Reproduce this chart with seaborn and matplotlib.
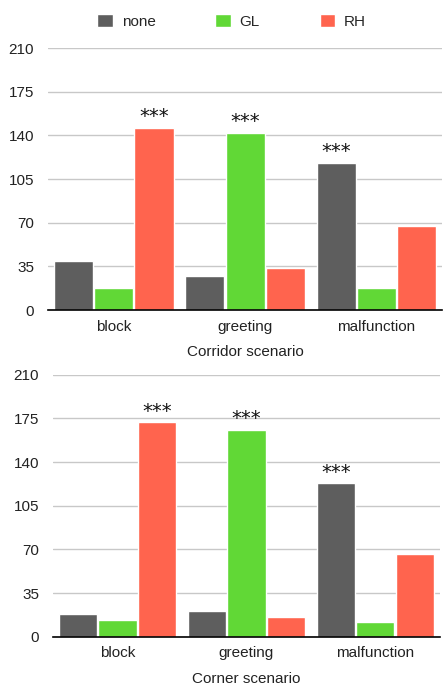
import pandas as pd
import matplotlib.pyplot as plt
import seaborn as sns

sns.set_theme(style="white")
plt.rcParams["font.family"] = ["Liberation Sans", "DejaVu Sans"]

actions = ["block", "greeting", "malfunction"]
conditions = ["none", "GL", "RH"]
colors = ["#5E5E5E", "#61D836", "#FF644E"]

# counts per condition, in the order of `actions`
corridor = {
    "none": [39, 27, 118],
    "GL": [18, 142, 18],
    "RH": [146, 34, 67],
}
corner = {
    "none": [18, 21, 123],
    "GL": [13, 166, 12],
    "RH": [172, 16, 66],
}
# significance marks per condition
corridor_sig = {"none": ["", "", "***"], "GL": ["", "***", ""], "RH": ["***", "", ""]}
corner_sig = {"none": ["", "", "***"], "GL": ["", "***", ""], "RH": ["***", "", ""]}

yticks = [0, 35, 70, 105, 140, 175, 210]


def to_long(counts):
    rows = []
    for cond in conditions:
        for act, v in zip(actions, counts[cond]):
            rows.append({"action": act, "condition": cond, "count": v})
    return pd.DataFrame(rows)


fig = plt.figure(figsize=(4.43, 6.85), dpi=100)
ax1 = fig.add_axes([0.1084, 0.5474, 0.8900, 0.3825])
ax2 = fig.add_axes([0.1196, 0.0705, 0.8730, 0.3825])

panels = [
    (ax1, corridor, corridor_sig, "Corridor scenario"),
    (ax2, corner, corner_sig, "Corner scenario"),
]

for ax, counts, sig, label in panels:
    sns.barplot(
        data=to_long(counts), x="action", y="count", hue="condition",
        hue_order=conditions, palette=colors, width=0.92, gap=0.03,
        saturation=1, ax=ax, legend=(ax is ax1),
    )
    for cont, cond in zip(ax.containers, conditions):
        ax.bar_label(cont, labels=sig[cond], padding=1, fontsize=14,
                     family="DejaVu Sans", color="#111111")
    ax.set_ylim(0, 210)
    ax.set_yticks(yticks)
    ax.set_xlim(-0.5, 2.5)
    ax.yaxis.grid(True, color="#c8c8c8", linewidth=1)
    ax.set_axisbelow(True)
    for side in ["top", "left", "right"]:
        ax.spines[side].set_visible(False)
    ax.spines["bottom"].set_color("black")
    ax.spines["bottom"].set_linewidth(1.2)
    ax.tick_params(axis="both", length=0, labelsize=11, colors="#222222")
    ax.tick_params(axis="y", pad=10)
    ax.tick_params(axis="x", pad=7)
    ax.set_ylabel("")
    ax.set_xlabel(label, fontsize=11, labelpad=8, color="#222222")

handles, labels = ax1.get_legend_handles_labels()
ax1.get_legend().remove()
fig.legend(
    handles, labels, loc="upper center", bbox_to_anchor=(0.523, 1.0),
    ncol=3, frameon=False, fontsize=11, handlelength=1.0, handleheight=1.0,
    columnspacing=3.9, handletextpad=0.6,
)

fig.savefig("out.png", dpi=100)
plt.close(fig)
